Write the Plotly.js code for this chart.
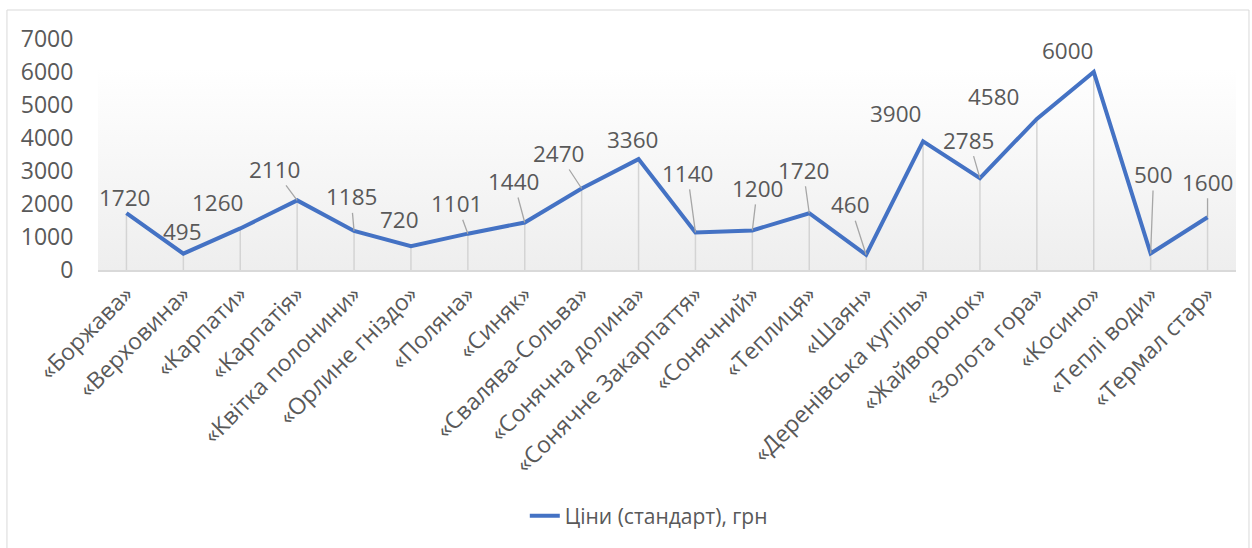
<!DOCTYPE html>
<html>
<head>
<meta charset="utf-8">
<script src="https://cdn.plot.ly/plotly-3.0.1.min.js"></script>
<style>html,body{margin:0;padding:0;background:#fff;}#chart{width:1252px;height:548px;}</style>
</head>
<body>
<div id="chart"></div>
<script>
const categories = ["«Боржава»","«Верховина»","«Карпати»","«Карпатія»","«Квітка полонини»","«Орлине гніздо»","«Поляна»","«Синяк»","«Свалява-Сольва»","«Сонячна долина»","«Сонячне Закарпаття»","«Сонячний»","«Теплиця»","«Шаян»","«Деренівська купіль»","«Жайворонок»","«Золота гора»","«Косино»","«Теплі води»","«Термал стар»"];
const prices = [1720,495,1260,2110,1185,720,1101,1440,2470,3360,1140,1200,1720,460,3900,2785,4580,6000,500,1600];
const seriesName = "Ціни (стандарт), грн";
const yTicks = [0,1000,2000,3000,4000,5000,6000,7000];

// label placement (pixel offsets of each data label from its point) and leader flags
const labelDX = [-2,-1,-23,-23,-3,-11,-11,-11,-23,-6,-8,5,-6,-16,-28,-11,-43,-26,3,0];
const labelDY = [-16,-22,-26,-31,-34,-27,-30,-41,-35,-20,-59,-42,-43,-50,-28,-38,-22,-22,-79,-35];
const leader  = [0,0,0,1,1,0,1,1,1,0,1,1,1,1,0,1,0,0,1,1];

const FONT = "Open Sans, Noto Sans, sans-serif";
const TXT = "#595959";

const gradSvg = '<svg xmlns="http://www.w3.org/2000/svg" width="100" height="100" preserveAspectRatio="none"><defs><linearGradient id="g" x1="0" y1="0" x2="0" y2="1"><stop offset="0" stop-color="#ffffff"/><stop offset="1" stop-color="#eeeeee"/></linearGradient></defs><rect width="100" height="100" fill="url(#g)"/></svg>';

const dropTrace = {
  x: categories, y: prices, type: 'scatter', mode: 'markers',
  marker: {size: 1, opacity: 0}, showlegend: false, hoverinfo: 'skip',
  error_y: {type: 'data', symmetric: false, array: prices.map(() => 0), arrayminus: prices,
            width: 0, thickness: 1.5, color: '#d4d4d4'}
};
const lineTrace = {
  x: categories, y: prices, type: 'scatter', mode: 'lines', name: seriesName,
  line: {color: '#4472C4', width: 4}
};

const annotations = prices.map((v, i) => ({
  x: categories[i], y: v, xref: 'x', yref: 'y', text: String(v),
  showarrow: true, arrowhead: 0, arrowwidth: 1.3, standoff: 0,
  arrowcolor: leader[i] ? '#a6a6a6' : 'rgba(0,0,0,0)',
  ax: labelDX[i], ay: labelDY[i], axref: 'pixel', ayref: 'pixel',
  font: {family: FONT, size: 22.5, color: TXT}, borderpad: 0
}));

const layout = {
  width: 1252, height: 548,
  margin: {l: 98, r: 16, t: 39, b: 278},
  paper_bgcolor: '#ffffff', plot_bgcolor: 'rgba(0,0,0,0)',
  font: {family: FONT, color: TXT},
  xaxis: {
    type: 'category', range: [-0.5, categories.length - 0.5], autorange: false,
    showgrid: false, zeroline: false,
    showline: true, linecolor: '#d9d9d9', linewidth: 1.5,
    tickangle: -45, tickfont: {family: FONT, size: 23, color: TXT},
    ticks: '', automargin: false
  },
  yaxis: {
    range: [0, 7000], autorange: false, tickvals: yTicks, ticktext: yTicks.map(String),
    showgrid: false, zeroline: false, showline: false,
    ticks: 'outside', ticklen: 19, tickcolor: 'rgba(0,0,0,0)',
    tickfont: {family: FONT, size: 23, color: TXT}, automargin: false
  },
  showlegend: true,
  legend: {orientation: 'h', x: 0.484, y: -1.065, xanchor: 'center', yanchor: 'middle',
           font: {family: FONT, size: 21, color: TXT}, bgcolor: 'rgba(0,0,0,0)'},
  images: [{source: 'data:image/svg+xml;charset=utf-8,' + encodeURIComponent(gradSvg),
            xref: 'paper', yref: 'paper', x: 0, y: 0.874, sizex: 1, sizey: 0.874,
            xanchor: 'left', yanchor: 'top', sizing: 'stretch', layer: 'below'}],
  shapes: [{type: 'rect', xref: 'paper', yref: 'paper', x0: -0.08, x1: 1.0114, y0: -1.26, y1: 1.1255,
            line: {color: '#d9d9d9', width: 1}, fillcolor: 'rgba(0,0,0,0)', layer: 'below'}],
  annotations: annotations
};

Plotly.newPlot('chart', [dropTrace, lineTrace], layout, {displayModeBar: false, staticPlot: true});
</script>
</body>
</html>
